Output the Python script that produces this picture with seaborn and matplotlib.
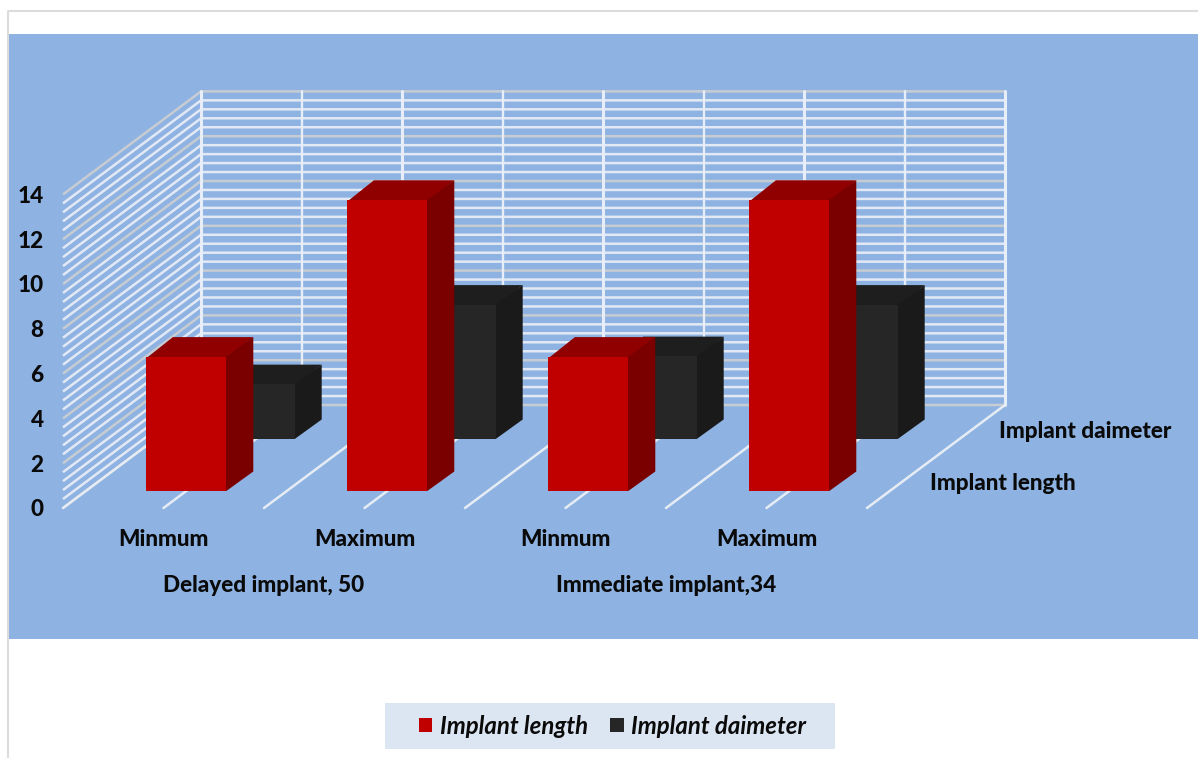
import matplotlib
matplotlib.use("Agg")
import matplotlib.pyplot as plt
from matplotlib.lines import Line2D
from matplotlib.patches import Patch, Polygon, Rectangle
import numpy as np
import pandas as pd
import seaborn as sns

# Values per column of the chart
bar_keys = ["delayed_min", "delayed_max", "immediate_min", "immediate_max"]
bar_labels = ["Minmum", "Maximum", "Minmum", "Maximum"]
group_labels = ["Delayed implant, 50", "Immediate implant,34"]
implant_length = [6.0, 13.0, 6.0, 13.0]
implant_diameter = [2.45, 6.0, 3.7, 6.0]
series_names = ["Implant length", "Implant daimeter"]
value_ticks = [0, 2, 4, 6, 8, 10, 12, 14]

W, H = 1198, 758
CAT_PX, VAL_PX = 201.0, 22.4          # pixel size of one category / one value unit
FLOOR_X, FLOOR_Y = 63.0, 508.0        # front-left corner of the floor
DEPTH_PX = (138.0, 103.0)             # floor depth, front to back wall
BAR_DEPTH_PX = (27.0, 19.5)           # depth of each box
TEXT = "#0a0a0a"
MINOR, MAJOR = "#e3e9f4", "#c6ccd2"
FONT_SIZE = 16.2

sns.set_theme(style="white")
plt.rcParams["font.family"] = ["Lato", "DejaVu Sans"]
plt.rcParams["font.weight"] = "black"
fig = plt.figure(figsize=(W / 100, H / 100), dpi=100, facecolor="white")


def fx(px):
    return px / W


def fy(py):
    return 1 - py / H


# Page frame and chart background
fig.add_artist(Rectangle((fx(9), fy(639)), fx(1189), fy(34) - fy(639),
                         transform=fig.transFigure, fc="#8eb3e3", ec="none"))
fig.add_artist(Line2D([fx(8), fx(8), fx(1198)], [0, fy(11), fy(11)],
                      transform=fig.transFigure, color="#dcdcdc", lw=1.5))


def plane_axes(dx, dy, zorder):
    """Transparent axes on a plane parallel to the back wall, offset (dx, dy) pixels from the front."""
    left, bottom = FLOOR_X + dx, FLOOR_Y - dy
    ax = fig.add_axes([fx(left), fy(bottom), 4 * CAT_PX / W, 14 * VAL_PX / H], zorder=zorder)
    ax.patch.set_alpha(0)
    ax.set_xlim(-0.5, 3.5)
    ax.set_ylim(0, 14)
    sns.despine(ax=ax, left=True, bottom=True)
    ax.grid(False)
    return ax


# Floor and walls
base = plane_axes(0, 0, 1)
sx, sy = DEPTH_PX[0] / CAT_PX, DEPTH_PX[1] / VAL_PX
for i in range(36):
    v = i * 0.4
    major = i % 5 == 0
    base.plot([-0.5, -0.5 + sx, 3.5 + sx], [v, v + sy, v + sy], clip_on=False,
              color=MAJOR if major else MINOR, lw=1.8, solid_capstyle="butt", zorder=3 if major else 2)
for x in np.arange(-0.5, 3.51, 0.5):
    base.plot([x + sx, x + sx], [sy, 14 + sy], color="#e8eef7", lw=2.2 if x % 1 == 0.5 else 1.7,
              clip_on=False, zorder=4)
    base.plot([x, x + sx], [0, sy], color="#e6ecf4", lw=1.8, clip_on=False, zorder=4)
base.set_xticks(range(4), bar_labels)
base.set_yticks(value_ticks)
base.tick_params(axis="x", length=0, pad=15, labelsize=FONT_SIZE, labelcolor=TEXT)
base.tick_params(axis="y", length=0, pad=14, labelsize=FONT_SIZE, labelcolor=TEXT)
base.set_xlabel("")
base.set_ylabel("")
for cx, label in zip([0.5, 2.5], group_labels):
    base.annotate(label, (cx, 0), xytext=(0, -77), textcoords="offset pixels",
                  ha="center", va="center", fontsize=FONT_SIZE, color=TEXT)


def draw_boxes(dx, dy, keys, values, front, top, side, zorder):
    ax = plane_axes(dx, dy, zorder)
    frame = pd.DataFrame({"key": keys, "value": values})
    sns.barplot(data=frame, x="key", y="value", order=keys, color=front, saturation=1,
                width=0.4, linewidth=0, ax=ax, zorder=3)
    ax.set_xlim(-0.5, 3.5)
    ax.set_ylim(0, 14)
    ax.set_xticks([])
    ax.set_yticks([])
    ax.set_xlabel("")
    ax.set_ylabel("")
    bx, by = BAR_DEPTH_PX[0] / CAT_PX, BAR_DEPTH_PX[1] / VAL_PX
    # Side and top faces tuck slightly under the front face so no seam shows
    tuck_x, tuck_y = 2 / CAT_PX, 2 / VAL_PX
    for bar, v in zip(ax.patches, values):
        x0, x1 = bar.get_x(), bar.get_x() + bar.get_width()
        ax.add_patch(Polygon([(x0, v - tuck_y), (x1, v - tuck_y), (x1 + bx, v + by), (x0 + bx, v + by)],
                             fc=top, ec="none", clip_on=False, zorder=2))
        ax.add_patch(Polygon([(x1 - tuck_x, 0), (x1, 0), (x1 + bx, by), (x1 + bx, v + by), (x1, v),
                              (x1 - tuck_x, v)],
                             fc=side, ec="none", clip_on=False, zorder=2))
    return ax


draw_boxes(91, 69, bar_keys, implant_diameter, "#262626", "#1e1e1e", "#1a1a1a", 2)
draw_boxes(22.6, 17, bar_keys, implant_length, "#c00000", "#900000", "#7a0000", 3)

# Depth axis labels
fig.text(fx(930), fy(483), series_names[0], ha="left", va="center", fontsize=FONT_SIZE, color=TEXT)
fig.text(fx(999), fy(431), series_names[1], ha="left", va="center", fontsize=FONT_SIZE, color=TEXT)

# Legend
handles = [Patch(fc="#c00000", ec="none", label=series_names[0]),
           Patch(fc="#262626", ec="none", label=series_names[1])]
fig.add_artist(Rectangle((fx(385), fy(749)), fx(450), fy(703) - fy(749),
                         transform=fig.transFigure, fc="#dce6f2", ec="none"))
leg = fig.legend(handles=handles, ncol=2, loc="center", bbox_to_anchor=(fx(612.5), fy(726)),
                 frameon=False, handlelength=0.56, handleheight=0.56, handletextpad=0.3,
                 columnspacing=0.95, prop={"size": 17.3, "style": "italic", "weight": "bold"},
                 labelcolor=TEXT)
leg.set_zorder(10)

fig.savefig("out.png", dpi=100, facecolor="white")
